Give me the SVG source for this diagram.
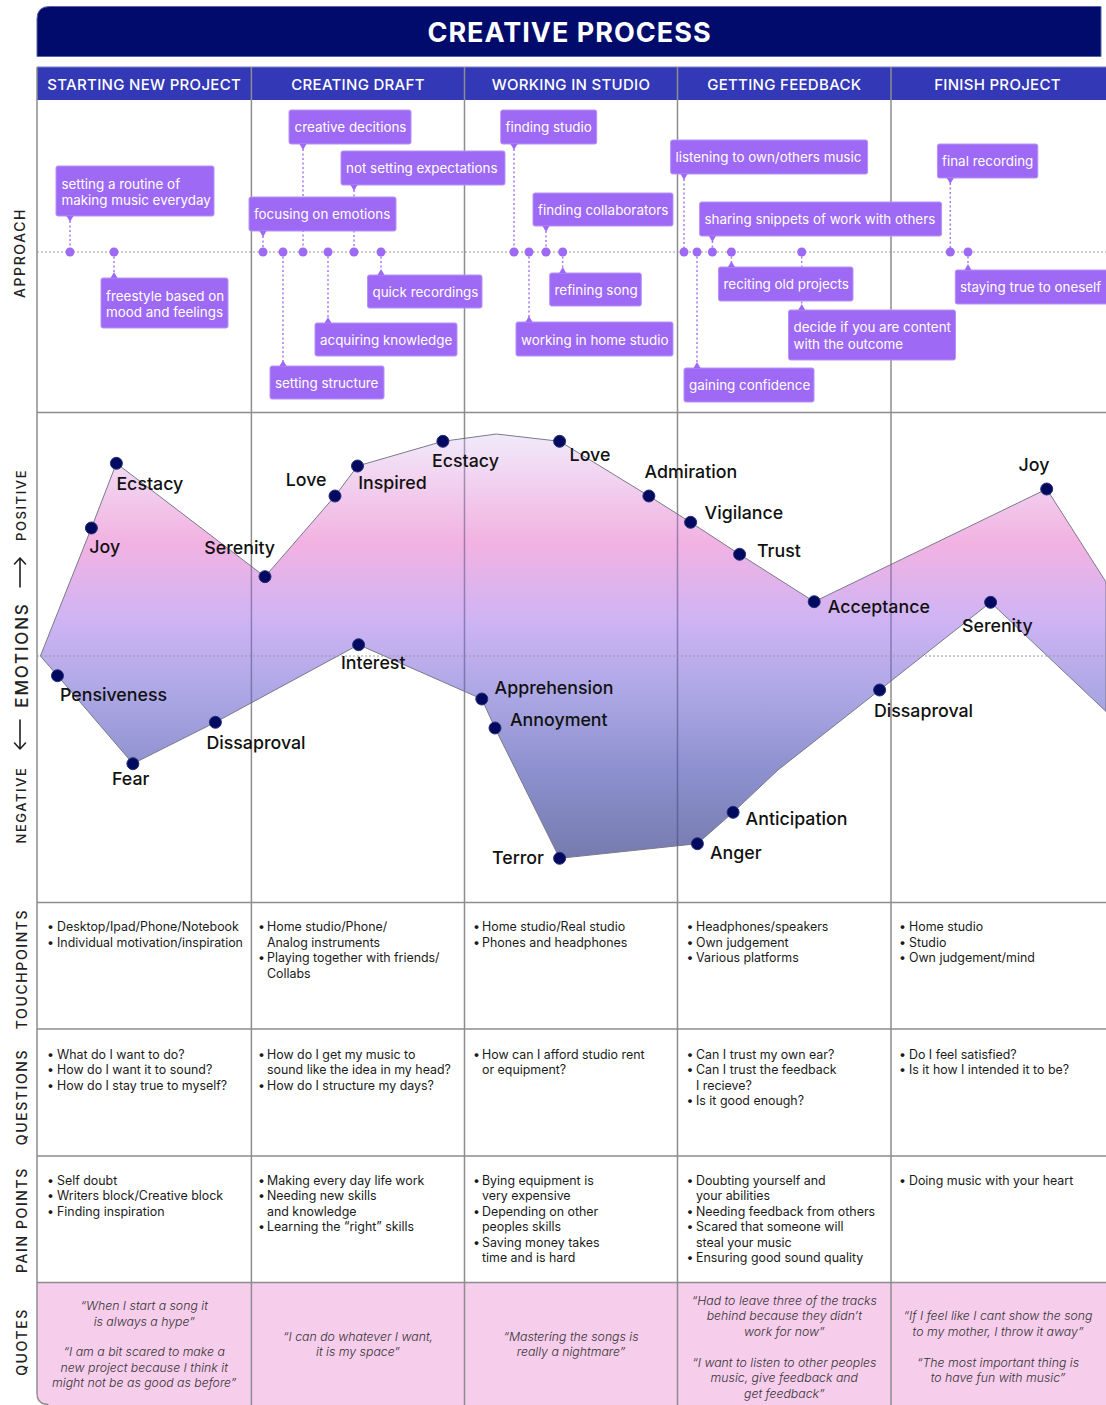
<svg xmlns="http://www.w3.org/2000/svg" width="1106" height="1405" viewBox="0 0 1106 1405">
  <defs>
    <style>
      .title { font-family: Inter, "Liberation Sans", sans-serif; font-size: 27px; font-weight: 700; fill: #ffffff; letter-spacing: 1px; }
      .phase { font-family: Inter, "Liberation Sans", sans-serif; font-size: 15px; font-weight: 500; fill: #ffffff; letter-spacing: 0.3px; }
      .side { font-family: Inter, "Liberation Sans", sans-serif; font-size: 14px; font-weight: 500; fill: #222; letter-spacing: 1.6px; }
      .side-sm { font-family: Inter, "Liberation Sans", sans-serif; font-size: 13px; font-weight: 500; fill: #222; letter-spacing: 1.6px; }
      .side-lg { font-family: Inter, "Liberation Sans", sans-serif; font-size: 17px; font-weight: 500; fill: #222; letter-spacing: 1.8px; }
      .grid { stroke: #8d8d8d; stroke-width: 1.5; fill: none; }
      .grid-over { stroke: #3a3a6a; stroke-opacity: 0.45; stroke-width: 1.5; fill: none; }
      .axis { stroke: #9a9a9a; stroke-width: 1; stroke-dasharray: 2 2; fill: none; }
      .card rect { fill: #9e6af5; stroke: #b692f8; stroke-width: 1; }
      .card text { font-family: Inter, "Liberation Sans", sans-serif; font-size: 13.4px; fill: #ffffff; }
      .ptr { fill: #9e6af5; }
      .pin { fill: #9e6af5; }
      .lead { stroke: #a57af6; stroke-width: 1.5; stroke-dasharray: 2 2.5; fill: none; }
      .emo { fill: #020a5f; stroke: #27307a; stroke-width: 1; }
      .emo-label { font-family: Inter, "Liberation Sans", sans-serif; font-size: 17.8px; font-weight: 500; fill: #111111; }
      .cell { font-family: Inter, "Liberation Sans", sans-serif; font-size: 12.4px; fill: #1a1a1a; }
      .quote { font-family: Inter, "Liberation Sans", sans-serif; font-size: 12.3px; font-style: italic; font-weight: 300; fill: #333333; text-anchor: middle; }
      .arrow { stroke: #222; stroke-width: 1.6; fill: none; stroke-linecap: round; stroke-linejoin: round; }
    </style>
    <linearGradient id="moodFill" gradientUnits="userSpaceOnUse" x1="0" y1="430" x2="0" y2="862">
      <stop offset="0" stop-color="#f1ecfb"/>
      <stop offset="0.26" stop-color="#f2b2e2"/>
      <stop offset="0.44" stop-color="#cfb4f4"/>
      <stop offset="0.62" stop-color="#aba6e4"/>
      <stop offset="0.8" stop-color="#8b8fcc"/>
      <stop offset="1" stop-color="#757aad"/>
    </linearGradient>
    <polygon id="bandShape"
      points="40.4,656 91.4,528 116.4,463.3 265,576.7 335,496 357.5,466 442.9,441.3 496.4,434 559.6,441.3 648.9,496 690.6,522.3 739.6,554.3 814.2,601.7 1046.7,489 1106,582 1106,711.5 990.6,602.3 879.6,690 778,770 733.1,812.3 697.4,843.7 559.6,858.3 495,728 481.8,699 358.6,644.7 215.4,722.3 132.9,763.7 57.5,675.7"/>
    <clipPath id="bandClip">
      <use href="#bandShape"/>
    </clipPath>
  </defs>

  <rect x="0" y="0" width="1106" height="1405" fill="#ffffff"/>

  <!-- Title bar -->
  <g id="title">
    <path d="M37,56.5 V19 Q37,6.5 49.5,6.5 H1101 V56.5 Z" fill="#000b6c" stroke="#5a63a8" stroke-width="1"/>
    <text class="title" x="569.5" y="41.5" text-anchor="middle">CREATIVE PROCESS</text>
  </g>

  <!-- Phase header row -->
  <g id="phases">
    <rect x="37" y="67" width="1069" height="33" fill="#3338b7"/>
    <line x1="37" y1="67" x2="1106" y2="67" stroke="#7c80c4" stroke-width="1"/>
    <text class="phase" x="144.2" y="90" text-anchor="middle">STARTING NEW PROJECT</text>
    <text class="phase" x="358" y="90" text-anchor="middle">CREATING DRAFT</text>
    <text class="phase" x="571" y="90" text-anchor="middle">WORKING IN STUDIO</text>
    <text class="phase" x="784.3" y="90" text-anchor="middle">GETTING FEEDBACK</text>
    <text class="phase" x="997.5" y="90" text-anchor="middle">FINISH PROJECT</text>
  </g>

  <!-- Quotes row background -->
  <path d="M37,1282.5 H1106 V1405 H49 Q37,1405 37,1393 Z" fill="#f7cdec"/>

  <!-- Grid -->
  <g id="grid">
    <path class="grid" d="M37,67 V1393 Q37,1404.5 48.5,1404.5"/>
    <line class="grid" x1="251.4" y1="67" x2="251.4" y2="1405"/>
    <line class="grid" x1="464.5" y1="67" x2="464.5" y2="1405"/>
    <line class="grid" x1="677.5" y1="67" x2="677.5" y2="1405"/>
    <line class="grid" x1="891" y1="67" x2="891" y2="1405"/>
    <line class="grid" x1="37" y1="412.5" x2="1106" y2="412.5"/>
    <line class="grid" x1="37" y1="902.5" x2="1106" y2="902.5"/>
    <line class="grid" x1="37" y1="1029" x2="1106" y2="1029"/>
    <line class="grid" x1="37" y1="1156" x2="1106" y2="1156"/>
    <line class="grid" x1="37" y1="1282.5" x2="1106" y2="1282.5"/>
  </g>

  <!-- Row labels -->
  <g id="row-labels">
    <text class="side" transform="translate(25,253) rotate(-90)" text-anchor="middle">APPROACH</text>
    <text class="side-sm" transform="translate(26,505) rotate(-90)" text-anchor="middle">POSITIVE</text>
    <path class="arrow" d="M20,587 V558 M14.5,564 L20,558 L25.5,564"/>
    <text class="side-lg" transform="translate(27.5,655) rotate(-90)" text-anchor="middle">EMOTIONS</text>
    <path class="arrow" d="M20,720 V749 M14.5,743 L20,749 L25.5,743"/>
    <text class="side-sm" transform="translate(26,805) rotate(-90)" text-anchor="middle">NEGATIVE</text>
    <text class="side" transform="translate(26.5,969) rotate(-90)" text-anchor="middle">TOUCHPOINTS</text>
    <text class="side" transform="translate(26.5,1097) rotate(-90)" text-anchor="middle">QUESTIONS</text>
    <text class="side" transform="translate(26.5,1220) rotate(-90)" text-anchor="middle">PAIN POINTS</text>
    <text class="side" transform="translate(26.5,1342) rotate(-90)" text-anchor="middle">QUOTES</text>
  </g>

  <!-- Approach timeline axis -->
  <line class="axis" x1="37" y1="252" x2="1106" y2="252"/>

  <!-- Connectors: leader lines from cards to timeline pins -->
  <g id="connectors">
    <line class="lead" x1="70" y1="221" x2="70" y2="252"/>
    <line class="lead" x1="114" y1="252" x2="114" y2="273"/>
    <line class="lead" x1="303" y1="149" x2="303" y2="252"/>
    <line class="lead" x1="354" y1="190" x2="354" y2="252"/>
    <line class="lead" x1="263" y1="236" x2="263" y2="252"/>
    <line class="lead" x1="381" y1="252" x2="381" y2="270"/>
    <line class="lead" x1="328" y1="252" x2="328" y2="318"/>
    <line class="lead" x1="283" y1="252" x2="283" y2="361"/>
    <line class="lead" x1="514" y1="149" x2="514" y2="252"/>
    <line class="lead" x1="546" y1="231" x2="546" y2="252"/>
    <line class="lead" x1="562.7" y1="252" x2="562.7" y2="268"/>
    <line class="lead" x1="529" y1="252" x2="529" y2="317"/>
    <line class="lead" x1="684" y1="179" x2="684" y2="252"/>
    <line class="lead" x1="712.4" y1="241" x2="712.4" y2="252"/>
    <line class="lead" x1="731.4" y1="252" x2="731.4" y2="262"/>
    <line class="lead" x1="801.7" y1="252" x2="801.7" y2="305"/>
    <line class="lead" x1="697" y1="252" x2="697" y2="363"/>
    <line class="lead" x1="950.3" y1="183" x2="950.3" y2="252"/>
    <line class="lead" x1="968" y1="252" x2="968" y2="265"/>
  </g>

  <!-- Approach cards -->
  <g id="ap-routine" class="card">
    <rect x="56" y="166" width="158" height="50" rx="2"/>
    <path class="ptr" d="M66.5,216 L73.5,216 L70,222 Z"/>
    <circle class="pin" cx="70" cy="252" r="4.5"/>
    <text x="61.5" y="188.5">setting a routine of</text>
    <text x="61.5" y="205">making music everyday</text>
  </g>
  <g id="ap-freestyle" class="card">
    <rect x="101" y="278" width="127" height="50" rx="2"/>
    <path class="ptr" d="M110.5,278 L117.5,278 L114,272 Z"/>
    <circle class="pin" cx="114" cy="252" r="4.5"/>
    <text x="106" y="300.5">freestyle based on</text>
    <text x="106" y="317">mood and feelings</text>
  </g>
  <g id="ap-creative-decitions" class="card">
    <rect x="289" y="110" width="122" height="34" rx="2"/>
    <path class="ptr" d="M299.5,144 L306.5,144 L303,150 Z"/>
    <circle class="pin" cx="303" cy="252" r="4.5"/>
    <text x="294.5" y="132">creative decitions</text>
  </g>
  <g id="ap-expectations" class="card">
    <rect x="341" y="151" width="164" height="34" rx="2"/>
    <path class="ptr" d="M350.5,185 L357.5,185 L354,191 Z"/>
    <circle class="pin" cx="354" cy="252" r="4.5"/>
    <text x="346" y="173">not setting expectations</text>
  </g>
  <g id="ap-emotions" class="card">
    <rect x="249" y="197" width="147" height="34" rx="2"/>
    <path class="ptr" d="M259.5,231 L266.5,231 L263,237 Z"/>
    <circle class="pin" cx="263" cy="252" r="4.5"/>
    <text x="254" y="219">focusing on emotions</text>
  </g>
  <g id="ap-quick-recordings" class="card">
    <rect x="367.5" y="275" width="114.5" height="33" rx="2"/>
    <path class="ptr" d="M377.5,275 L384.5,275 L381,269 Z"/>
    <circle class="pin" cx="381" cy="252" r="4.5"/>
    <text x="372.5" y="297">quick recordings</text>
  </g>
  <g id="ap-knowledge" class="card">
    <rect x="315" y="323" width="142" height="33" rx="2"/>
    <path class="ptr" d="M324.5,323 L331.5,323 L328,317 Z"/>
    <circle class="pin" cx="328" cy="252" r="4.5"/>
    <text x="320" y="345">acquiring knowledge</text>
  </g>
  <g id="ap-structure" class="card">
    <rect x="270" y="366" width="114" height="33" rx="2"/>
    <path class="ptr" d="M279.5,366 L286.5,366 L283,360 Z"/>
    <circle class="pin" cx="283" cy="252" r="4.5"/>
    <text x="275" y="388">setting structure</text>
  </g>
  <g id="ap-finding-studio" class="card">
    <rect x="500.7" y="110" width="96" height="34" rx="2"/>
    <path class="ptr" d="M510.5,144 L517.5,144 L514,150 Z"/>
    <circle class="pin" cx="514" cy="252" r="4.5"/>
    <text x="505.5" y="132">finding studio</text>
  </g>
  <g id="ap-collaborators" class="card">
    <rect x="533" y="193" width="140" height="33" rx="2"/>
    <path class="ptr" d="M542.5,226 L549.5,226 L546,232 Z"/>
    <circle class="pin" cx="546" cy="252" r="4.5"/>
    <text x="538" y="215">finding collaborators</text>
  </g>
  <g id="ap-refining" class="card">
    <rect x="549.7" y="273" width="91.6" height="33" rx="2"/>
    <path class="ptr" d="M559.2,273 L566.2,273 L562.7,267 Z"/>
    <circle class="pin" cx="562.7" cy="252" r="4.5"/>
    <text x="554.5" y="295">refining song</text>
  </g>
  <g id="ap-home-studio" class="card">
    <rect x="516" y="322" width="157" height="34" rx="2"/>
    <path class="ptr" d="M525.5,322 L532.5,322 L529,316 Z"/>
    <circle class="pin" cx="529" cy="252" r="4.5"/>
    <text x="521" y="344.5">working in home studio</text>
  </g>
  <g id="ap-listening" class="card">
    <rect x="670.6" y="140" width="197" height="34" rx="2"/>
    <path class="ptr" d="M680.5,174 L687.5,174 L684,180 Z"/>
    <circle class="pin" cx="684" cy="252" r="4.5"/>
    <text x="675.5" y="162">listening to own/others music</text>
  </g>
  <g id="ap-sharing" class="card">
    <rect x="699.6" y="202" width="242" height="34" rx="2"/>
    <path class="ptr" d="M708.9,236 L715.9,236 L712.4,242 Z"/>
    <circle class="pin" cx="712.4" cy="252" r="4.5"/>
    <text x="704.5" y="224">sharing snippets of work with others</text>
  </g>
  <g id="ap-reciting" class="card">
    <rect x="718.5" y="267" width="134.5" height="34" rx="2"/>
    <path class="ptr" d="M727.9,267 L734.9,267 L731.4,261 Z"/>
    <circle class="pin" cx="731.4" cy="252" r="4.5"/>
    <text x="723.5" y="289">reciting old projects</text>
  </g>
  <g id="ap-content" class="card">
    <rect x="788.5" y="310" width="167" height="50" rx="2"/>
    <path class="ptr" d="M798.2,310 L805.2,310 L801.7,304 Z"/>
    <circle class="pin" cx="801.7" cy="252" r="4.5"/>
    <text x="793.5" y="332">decide if you are content</text>
    <text x="793.5" y="348.5">with the outcome</text>
  </g>
  <g id="ap-confidence" class="card">
    <rect x="684" y="368" width="130" height="34" rx="2"/>
    <path class="ptr" d="M693.5,368 L700.5,368 L697,362 Z"/>
    <circle class="pin" cx="697" cy="252" r="4.5"/>
    <text x="689" y="390">gaining confidence</text>
  </g>
  <g id="ap-final-recording" class="card">
    <rect x="937.4" y="144" width="100.4" height="34" rx="2"/>
    <path class="ptr" d="M946.8,178 L953.8,178 L950.3,184 Z"/>
    <circle class="pin" cx="950.3" cy="252" r="4.5"/>
    <text x="942" y="166">final recording</text>
  </g>
  <g id="ap-true-to-oneself" class="card">
    <rect x="955.3" y="270" width="162" height="34" rx="2"/>
    <path class="ptr" d="M964.5,270 L971.5,270 L968,264 Z"/>
    <circle class="pin" cx="968" cy="252" r="4.5"/>
    <text x="960" y="292">staying true to oneself</text>
  </g>

  <!-- Emotion curve: band between the upper and lower feelings -->
  <g id="emotion-band">
    <use href="#bandShape" fill="url(#moodFill)" stroke="#7a7a8a" stroke-width="1"/>
  </g>
  <!-- phase dividers seen through the band, plus the neutral line -->
  <g id="band-overlay">
    <g clip-path="url(#bandClip)">
      <line class="grid-over" x1="251.4" y1="412" x2="251.4" y2="902"/>
      <line class="grid-over" x1="464.5" y1="412" x2="464.5" y2="902"/>
      <line class="grid-over" x1="677.5" y1="412" x2="677.5" y2="902"/>
      <line class="grid-over" x1="891" y1="412" x2="891" y2="902"/>
    </g>
    <line class="axis" x1="37" y1="656" x2="1106" y2="656"/>
  </g>

  <!-- Emotion points -->
  <g id="emo-joy-1"><circle class="emo" cx="91.4" cy="528" r="6"/><text class="emo-label" x="89.3" y="553">Joy</text></g>
  <g id="emo-ecstacy-1"><circle class="emo" cx="116.4" cy="463.3" r="6"/><text class="emo-label" x="116.4" y="490">Ecstacy</text></g>
  <g id="emo-serenity-1"><circle class="emo" cx="265" cy="576.7" r="6"/><text class="emo-label" x="204.3" y="554">Serenity</text></g>
  <g id="emo-love-1"><circle class="emo" cx="335" cy="496" r="6"/><text class="emo-label" x="285.7" y="485.5">Love</text></g>
  <g id="emo-inspired"><circle class="emo" cx="357.5" cy="466" r="6"/><text class="emo-label" x="358.2" y="489">Inspired</text></g>
  <g id="emo-ecstacy-2"><circle class="emo" cx="442.9" cy="441.3" r="6"/><text class="emo-label" x="432" y="467">Ecstacy</text></g>
  <g id="emo-love-2"><circle class="emo" cx="559.6" cy="441.3" r="6"/><text class="emo-label" x="569.6" y="460.5">Love</text></g>
  <g id="emo-admiration"><circle class="emo" cx="648.9" cy="496" r="6"/><text class="emo-label" x="644.6" y="478">Admiration</text></g>
  <g id="emo-vigilance"><circle class="emo" cx="690.6" cy="522.3" r="6"/><text class="emo-label" x="704.6" y="519">Vigilance</text></g>
  <g id="emo-trust"><circle class="emo" cx="739.6" cy="554.3" r="6"/><text class="emo-label" x="757" y="556.5">Trust</text></g>
  <g id="emo-acceptance"><circle class="emo" cx="814.2" cy="601.7" r="6"/><text class="emo-label" x="827.8" y="613">Acceptance</text></g>
  <g id="emo-joy-2"><circle class="emo" cx="1046.7" cy="489" r="6"/><text class="emo-label" x="1018.5" y="470.5">Joy</text></g>
  <g id="emo-serenity-2"><circle class="emo" cx="990.6" cy="602.3" r="6"/><text class="emo-label" x="962" y="632">Serenity</text></g>
  <g id="emo-dissaproval-2"><circle class="emo" cx="879.6" cy="690" r="6"/><text class="emo-label" x="873.9" y="716.5">Dissaproval</text></g>
  <g id="emo-anticipation"><circle class="emo" cx="733.1" cy="812.3" r="6"/><text class="emo-label" x="745.6" y="824.5">Anticipation</text></g>
  <g id="emo-anger"><circle class="emo" cx="697.4" cy="843.7" r="6"/><text class="emo-label" x="710" y="858.5">Anger</text></g>
  <g id="emo-terror"><circle class="emo" cx="559.6" cy="858.3" r="6"/><text class="emo-label" x="492" y="864">Terror</text></g>
  <g id="emo-annoyment"><circle class="emo" cx="495" cy="728" r="6"/><text class="emo-label" x="510" y="725.5">Annoyment</text></g>
  <g id="emo-apprehension"><circle class="emo" cx="481.8" cy="699" r="6"/><text class="emo-label" x="494.6" y="693.5">Apprehension</text></g>
  <g id="emo-interest"><circle class="emo" cx="358.6" cy="644.7" r="6"/><text class="emo-label" x="341" y="668.5">Interest</text></g>
  <g id="emo-dissaproval-1"><circle class="emo" cx="215.4" cy="722.3" r="6"/><text class="emo-label" x="206.4" y="748.5">Dissaproval</text></g>
  <g id="emo-fear"><circle class="emo" cx="132.9" cy="763.7" r="6"/><text class="emo-label" x="112" y="785">Fear</text></g>
  <g id="emo-pensiveness"><circle class="emo" cx="57.5" cy="675.7" r="6"/><text class="emo-label" x="60" y="701">Pensiveness</text></g>

  <!-- Touchpoints -->
  <g id="touchpoints" class="cell">
    <text x="47" y="931">•</text><text x="57" y="931">Desktop/Ipad/Phone/Notebook</text>
    <text x="47" y="946.5">•</text><text x="57" y="946.5">Individual motivation/inspiration</text>

    <text x="258" y="931">•</text><text x="267" y="931">Home studio/Phone/</text>
    <text x="267" y="946.5">Analog instruments</text>
    <text x="258" y="962">•</text><text x="267" y="962">Playing together with friends/</text>
    <text x="267" y="977.5">Collabs</text>

    <text x="473" y="931">•</text><text x="482" y="931">Home studio/Real studio</text>
    <text x="473" y="946.5">•</text><text x="482" y="946.5">Phones and headphones</text>

    <text x="686.5" y="931">•</text><text x="696" y="931">Headphones/speakers</text>
    <text x="686.5" y="946.5">•</text><text x="696" y="946.5">Own judgement</text>
    <text x="686.5" y="962">•</text><text x="696" y="962">Various platforms</text>

    <text x="899" y="931">•</text><text x="909" y="931">Home studio</text>
    <text x="899" y="946.5">•</text><text x="909" y="946.5">Studio</text>
    <text x="899" y="962">•</text><text x="909" y="962">Own judgement/mind</text>
  </g>

  <!-- Questions -->
  <g id="questions" class="cell">
    <text x="47" y="1058.5">•</text><text x="57" y="1058.5">What do I want to do?</text>
    <text x="47" y="1074">•</text><text x="57" y="1074">How do I want it to sound?</text>
    <text x="47" y="1089.5">•</text><text x="57" y="1089.5">How do I stay true to myself?</text>

    <text x="258" y="1058.5">•</text><text x="267" y="1058.5">How do I get my music to</text>
    <text x="267" y="1074">sound like the idea in my head?</text>
    <text x="258" y="1089.5">•</text><text x="267" y="1089.5">How do I structure my days?</text>

    <text x="473" y="1058.5">•</text><text x="482" y="1058.5">How can I afford studio rent</text>
    <text x="482" y="1074">or equipment?</text>

    <text x="686.5" y="1058.5">•</text><text x="696" y="1058.5">Can I trust my own ear?</text>
    <text x="686.5" y="1074">•</text><text x="696" y="1074">Can I trust the feedback</text>
    <text x="696" y="1089.5">I recieve?</text>
    <text x="686.5" y="1105">•</text><text x="696" y="1105">Is it good enough?</text>

    <text x="899" y="1058.5">•</text><text x="909" y="1058.5">Do I feel satisfied?</text>
    <text x="899" y="1074">•</text><text x="909" y="1074">Is it how I intended it to be?</text>
  </g>

  <!-- Pain points -->
  <g id="pain-points" class="cell">
    <text x="47" y="1184.5">•</text><text x="57" y="1184.5">Self doubt</text>
    <text x="47" y="1200">•</text><text x="57" y="1200">Writers block/Creative block</text>
    <text x="47" y="1215.5">•</text><text x="57" y="1215.5">Finding inspiration</text>

    <text x="258" y="1184.5">•</text><text x="267" y="1184.5">Making every day life work</text>
    <text x="258" y="1200">•</text><text x="267" y="1200">Needing new skills</text>
    <text x="267" y="1215.5">and knowledge</text>
    <text x="258" y="1231">•</text><text x="267" y="1231">Learning the “right” skills</text>

    <text x="473" y="1184.5">•</text><text x="482" y="1184.5">Bying equipment is</text>
    <text x="482" y="1200">very expensive</text>
    <text x="473" y="1215.5">•</text><text x="482" y="1215.5">Depending on other</text>
    <text x="482" y="1231">peoples skills</text>
    <text x="473" y="1246.5">•</text><text x="482" y="1246.5">Saving money takes</text>
    <text x="482" y="1262">time and is hard</text>

    <text x="686.5" y="1184.5">•</text><text x="696" y="1184.5">Doubting yourself and</text>
    <text x="696" y="1200">your abilities</text>
    <text x="686.5" y="1215.5">•</text><text x="696" y="1215.5">Needing feedback from others</text>
    <text x="686.5" y="1231">•</text><text x="696" y="1231">Scared that someone will</text>
    <text x="696" y="1246.5">steal your music</text>
    <text x="686.5" y="1262">•</text><text x="696" y="1262">Ensuring good sound quality</text>

    <text x="899" y="1184.5">•</text><text x="909" y="1184.5">Doing music with your heart</text>
  </g>

  <!-- Quotes -->
  <g id="quotes">
    <text class="quote" x="144.2" y="1310">“When I start a song it</text>
    <text class="quote" x="144.2" y="1325.5">is always a hype”</text>
    <text class="quote" x="144.2" y="1356">“I am a bit scared to make a</text>
    <text class="quote" x="144.2" y="1371.5">new project because I think it</text>
    <text class="quote" x="144.2" y="1387">might not be as good as before”</text>

    <text class="quote" x="358" y="1340.5">“I can do whatever I want,</text>
    <text class="quote" x="358" y="1356">it is my space”</text>

    <text class="quote" x="571" y="1340.5">“Mastering the songs is</text>
    <text class="quote" x="571" y="1356">really a nightmare”</text>

    <text class="quote" x="784.3" y="1304.5">“Had to leave three of the tracks</text>
    <text class="quote" x="784.3" y="1320">behind because they didn’t</text>
    <text class="quote" x="784.3" y="1335.5">work for now”</text>
    <text class="quote" x="784.3" y="1366.5">“I want to listen to other peoples</text>
    <text class="quote" x="784.3" y="1382">music, give feedback and</text>
    <text class="quote" x="784.3" y="1397.5">get feedback”</text>

    <text class="quote" x="998" y="1320">“If I feel like I cant show the song</text>
    <text class="quote" x="998" y="1335.5">to my mother, I throw it away”</text>
    <text class="quote" x="998" y="1366.5">“The most important thing is</text>
    <text class="quote" x="998" y="1382">to have fun with music”</text>
  </g>
</svg>
